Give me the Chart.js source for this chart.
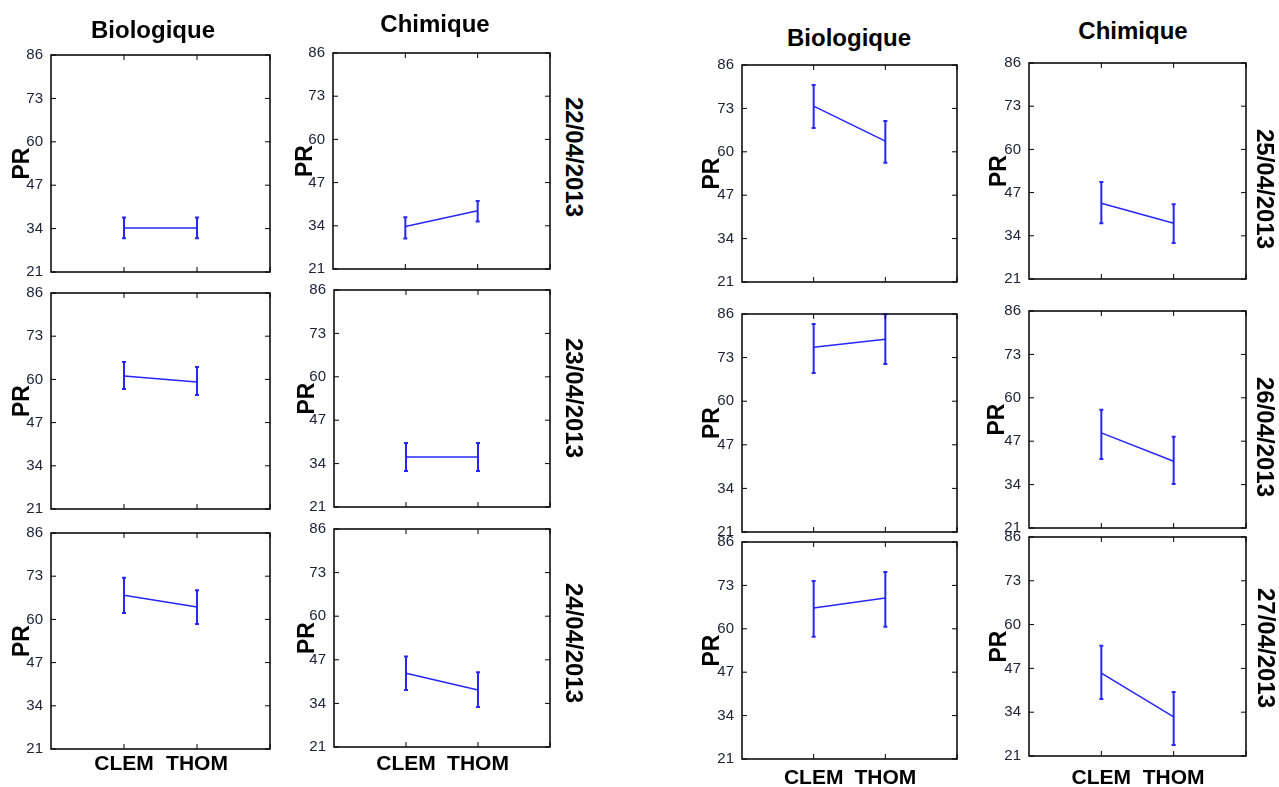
<!DOCTYPE html>
<html>
<head>
<meta charset="utf-8">
<script src="https://cdn.jsdelivr.net/npm/chart.js@4.4.1/dist/chart.umd.min.js"></script>
<style>
  body { margin:0; background:#fff; width:1279px; height:787px; overflow:hidden; position:relative;
         font-family:"Liberation Sans", Arial, sans-serif; }
  .panel { position:absolute; }
  .lbl { position:absolute; font-weight:bold; color:#000; white-space:nowrap; transform:translate(-50%,-50%); }
  .date { font-size:24px; transform:translate(-50%,-50%) rotate(90deg); }
  .title { font-size:24px; }
</style>
</head>
<body>
<script>
// --- données ---
const categories = ['CLEM', 'THOM'];
const dates = ['22/04/2013', '23/04/2013', '24/04/2013', '25/04/2013', '26/04/2013', '27/04/2013'];
const yTicks = [21, 34, 47, 60, 73, 86];
const xTicks = [0, 1, 2, 3];

// Biologique : moyenne, borne basse, borne haute (CLEM, THOM) par jour
const bioMean = [[34.2, 34.2], [61, 59.2], [67.3, 63.7], [73.7, 63.2], [76.1, 78.5], [66.2, 69.2]];
const bioLow  = [[31.1, 31.1], [57.1, 55.3], [61.9, 58.6], [67.1, 56.7], [68.4, 71.1], [57.6, 60.6]];
const bioHigh = [[37.3, 37.3], [65.2, 63.7], [72.5, 68.8], [80, 69.2], [83, 85.9], [74.3, 77]];

// Chimique
const chimMean = [[33.8, 38.5], [36, 36], [43, 38], [43.8, 37.8], [49.5, 41], [45.6, 32.6]];
const chimLow  = [[30.2, 35.3], [31.8, 31.8], [38, 32.9], [37.8, 31.8], [41.7, 34.2], [37.9, 24.3]];
const chimHigh = [[36.6, 41.5], [40.2, 40.2], [48, 43.3], [50.2, 43.5], [56.4, 48.3], [53.7, 40]];

const BLUE = '#2626ff';

// position des cadres : [gauche, haut, droite, bas], x du libellé PR
const panels = [
  { day: 0, kind: 'bio',  box: [51, 55, 270, 272],    prX: 20 },
  { day: 0, kind: 'chim', box: [333, 53, 550, 269],   prX: 303 },
  { day: 1, kind: 'bio',  box: [51, 293, 270, 509],   prX: 20 },
  { day: 1, kind: 'chim', box: [334, 290, 550, 507],  prX: 305 },
  { day: 2, kind: 'bio',  box: [51, 533, 270, 749],   prX: 20,  last: true, xPad: -5 },
  { day: 2, kind: 'chim', box: [334, 529, 550, 747],  prX: 305, last: true, xPad: -3 },
  { day: 3, kind: 'bio',  box: [742, 65, 957, 282],   prX: 710 },
  { day: 3, kind: 'chim', box: [1029, 63, 1246, 279], prX: 997 },
  { day: 4, kind: 'bio',  box: [742, 314, 957, 532],  prX: 710 },
  { day: 4, kind: 'chim', box: [1029, 311, 1246, 528], prX: 995 },
  { day: 5, kind: 'bio',  box: [742, 542, 957, 759],  prX: 710, last: true, xPad: -1 },
  { day: 5, kind: 'chim', box: [1029, 537, 1246, 756], prX: 997, last: true, xPad: 2 },
];

const titles = [['Biologique', 153, 30], ['Chimique', 435, 24], ['Biologique', 849, 38], ['Chimique', 1133, 31]];
const datePos = [[574, 157], [574, 398], [574, 643], [1265, 189], [1265, 437], [1266, 648]];

Chart.defaults.font.family = '"Liberation Sans", Arial, sans-serif';

// cadre façon Matlab avec graduations vers l'intérieur
const framePlugin = {
  id: 'frame',
  afterDraw(chart) {
    const { ctx, chartArea: a, scales: { x, y } } = chart;
    ctx.save();
    ctx.strokeStyle = '#000';
    ctx.lineWidth = 1.5;
    ctx.strokeRect(a.left, a.top, a.right - a.left, a.bottom - a.top);
    ctx.lineWidth = 1;
    ctx.beginPath();
    yTicks.forEach(v => {
      const py = y.getPixelForValue(v);
      ctx.moveTo(a.left, py); ctx.lineTo(a.left + 5, py);
      ctx.moveTo(a.right, py); ctx.lineTo(a.right - 5, py);
    });
    xTicks.slice(1).forEach(v => {
      const px = x.getPixelForValue(v);
      ctx.moveTo(px, a.top); ctx.lineTo(px, a.top + 5);
      ctx.moveTo(px, a.bottom); ctx.lineTo(px, a.bottom - 5);
    });
    ctx.stroke();
    ctx.restore();
  }
};

// barres d'erreur à partir des bornes du dataset
const errorBarPlugin = {
  id: 'errorBars',
  afterDatasetsDraw(chart) {
    const { ctx, scales: { x, y } } = chart;
    const ds = chart.data.datasets[0];
    ctx.save();
    ctx.strokeStyle = BLUE;
    ctx.lineWidth = 2;
    ds.errLow.forEach((lo, i) => {
      const px = x.getPixelForValue(i + 1);
      const yLo = y.getPixelForValue(lo);
      const yHi = y.getPixelForValue(ds.errHigh[i]);
      ctx.beginPath();
      ctx.moveTo(px, yLo); ctx.lineTo(px, yHi);
      ctx.moveTo(px - 2, yLo); ctx.lineTo(px + 2, yLo);
      ctx.moveTo(px - 2, yHi); ctx.lineTo(px + 2, yHi);
      ctx.stroke();
    });
    ctx.restore();
  }
};

function addLabel(text, x, y, cls) {
  const d = document.createElement('div');
  d.className = 'lbl ' + cls;
  d.textContent = text;
  d.style.left = x + 'px';
  d.style.top = y + 'px';
  document.body.appendChild(d);
}

panels.forEach(p => {
  const [bl, bt, br, bb] = p.box;
  const W = bl - p.prX + 11;        // largeur de l'axe y (titre PR compris)
  const padTop = 12, padRight = 6;
  const bottomH = p.last ? 50 : 12;

  const div = document.createElement('div');
  div.className = 'panel';
  div.style.left = (bl - W) + 'px';
  div.style.top = (bt - padTop) + 'px';
  div.style.width = (W + br - bl + padRight) + 'px';
  div.style.height = (padTop + bb - bt + bottomH) + 'px';
  const canvas = document.createElement('canvas');
  div.appendChild(canvas);
  document.body.appendChild(div);

  const mean = p.kind === 'bio' ? bioMean[p.day] : chimMean[p.day];
  const low = p.kind === 'bio' ? bioLow[p.day] : chimLow[p.day];
  const high = p.kind === 'bio' ? bioHigh[p.day] : chimHigh[p.day];

  new Chart(canvas, {
    type: 'line',
    data: {
      datasets: [{
        data: mean.map((v, i) => ({ x: i + 1, y: v })),
        errLow: low, errHigh: high,
        borderColor: BLUE, borderWidth: 1.5, pointRadius: 0, fill: false, tension: 0
      }]
    },
    options: {
      responsive: true, maintainAspectRatio: false, animation: false, devicePixelRatio: 1,
      layout: { padding: { top: padTop, right: padRight, left: 0, bottom: 0 } },
      plugins: { legend: { display: false }, tooltip: { enabled: false } },
      scales: {
        x: {
          type: 'linear', min: 0, max: 3,
          afterBuildTicks: s => { s.ticks = xTicks.map(v => ({ value: v })); },
          afterFit: s => { s.height = bottomH; },
          grid: { display: false }, border: { display: false },
          ticks: {
            display: !!p.last, autoSkip: false, maxRotation: 0, padding: p.xPad || 0,
            callback: v => categories[v - 1] || '',
            font: { size: 21, weight: 'bold' }, color: '#000'
          }
        },
        y: {
          min: 21, max: 86,
          afterBuildTicks: s => { s.ticks = yTicks.map(v => ({ value: v })); },
          afterFit: s => { s.width = W; },
          grid: { display: false }, border: { display: false },
          ticks: { font: { size: 15 }, color: '#22223a', padding: 0 },
          title: { display: true, text: 'PR', font: { size: 23, weight: 'bold' }, color: '#000', padding: 0 }
        }
      }
    },
    plugins: [framePlugin, errorBarPlugin]
  });
});

titles.forEach(t => addLabel(t[0], t[1], t[2], 'title'));
dates.forEach((d, i) => addLabel(d, datePos[i][0], datePos[i][1], 'date'));
</script>
</body>
</html>
